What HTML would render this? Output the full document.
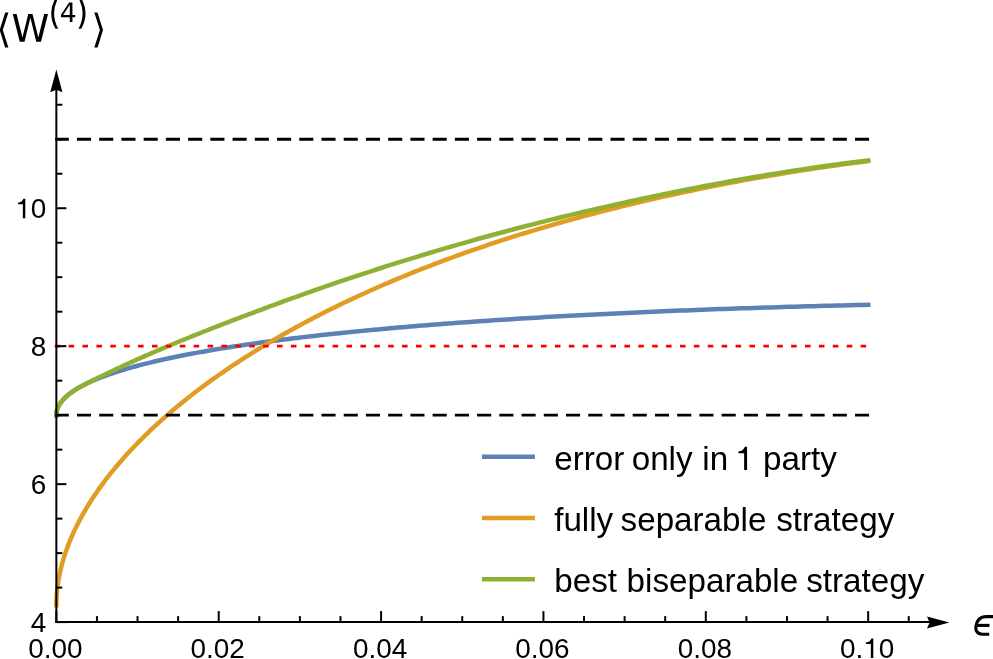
<!DOCTYPE html>
<html><head><meta charset="utf-8"><title>plot</title>
<style>
html,body{margin:0;padding:0;background:#fff;}
body{width:993px;height:659px;overflow:hidden;font-family:"Liberation Sans",sans-serif;}
svg{display:block;position:absolute;left:0;top:0;will-change:transform;}
text{font-family:"Liberation Sans",sans-serif;fill:#000;}
</style></head><body>
<svg width="993" height="659" viewBox="0 0 993 659">
<rect width="993" height="659" fill="#fff"/>

<g fill="none" stroke-linecap="square" stroke-linejoin="round" stroke-width="4.50">
<path stroke="#5E81B5" d="M56.35 415.16 L56.36 414.49 L56.40 413.82 L56.46 413.15 L56.54 412.48 L56.65 411.81 L56.79 411.15 L56.94 410.48 L57.12 409.82 L57.33 409.16 L57.56 408.51 L57.81 407.85 L58.09 407.19 L58.40 406.54 L58.72 405.89 L59.07 405.24 L59.45 404.59 L59.85 403.95 L60.27 403.30 L60.72 402.66 L61.19 402.02 L61.69 401.38 L62.21 400.74 L62.75 400.10 L63.32 399.47 L63.91 398.84 L64.53 398.21 L65.17 397.58 L65.84 396.95 L66.53 396.32 L67.24 395.70 L67.98 395.08 L68.74 394.46 L69.53 393.84 L70.34 393.22 L71.17 392.61 L72.03 391.99 L72.92 391.38 L73.82 390.77 L74.76 390.16 L75.71 389.56 L76.69 388.95 L77.70 388.35 L78.73 387.75 L79.78 387.15 L80.86 386.55 L81.96 385.96 L83.08 385.36 L84.23 384.77 L85.41 384.18 L86.60 383.59 L87.83 383.00 L89.07 382.42 L90.34 381.84 L91.64 381.25 L92.96 380.67 L94.30 380.10 L95.67 379.52 L97.06 378.95 L98.48 378.37 L99.92 377.80 L101.38 377.24 L102.87 376.67 L104.38 376.10 L105.92 375.54 L107.48 374.98 L109.07 374.42 L110.67 373.86 L112.31 373.31 L113.97 372.75 L115.65 372.20 L117.36 371.65 L119.09 371.10 L120.84 370.55 L122.62 370.01 L124.42 369.47 L126.25 368.93 L128.10 368.39 L129.98 367.85 L131.88 367.31 L133.80 366.78 L135.75 366.25 L137.72 365.72 L139.72 365.19 L141.74 364.67 L143.79 364.14 L145.85 363.62 L147.95 363.10 L150.07 362.58 L152.21 362.07 L154.37 361.55 L156.56 361.04 L158.78 360.53 L161.02 360.02 L163.28 359.51 L165.57 359.01 L167.88 358.51 L170.22 358.00 L172.58 357.51 L174.96 357.01 L177.37 356.51 L179.80 356.02 L182.26 355.53 L184.74 355.04 L187.24 354.55 L189.77 354.07 L192.33 353.58 L194.90 353.10 L197.51 352.62 L200.13 352.15 L202.78 351.67 L205.46 351.20 L208.15 350.73 L210.88 350.26 L213.62 349.79 L216.40 349.32 L219.19 348.86 L222.01 348.40 L224.86 347.94 L227.72 347.48 L230.62 347.03 L233.53 346.57 L236.47 346.12 L239.44 345.67 L242.43 345.22 L245.44 344.78 L248.48 344.34 L251.54 343.89 L254.63 343.46 L257.74 343.02 L260.87 342.58 L264.03 342.15 L267.21 341.72 L270.42 341.29 L273.65 340.86 L276.91 340.44 L280.18 340.01 L283.49 339.59 L286.82 339.18 L290.17 338.76 L293.55 338.34 L296.95 337.93 L300.37 337.52 L303.82 337.11 L307.29 336.71 L310.79 336.30 L314.31 335.90 L317.86 335.50 L321.43 335.10 L325.02 334.71 L328.64 334.31 L332.28 333.92 L335.95 333.53 L339.64 333.14 L343.36 332.76 L347.10 332.38 L350.86 332.00 L354.65 331.62 L358.46 331.24 L362.30 330.87 L366.16 330.49 L370.04 330.12 L373.95 329.75 L377.88 329.39 L381.84 329.03 L385.82 328.66 L389.83 328.30 L393.86 327.95 L397.91 327.59 L401.99 327.24 L406.09 326.89 L410.22 326.54 L414.37 326.19 L418.54 325.85 L422.74 325.51 L426.97 325.17 L431.21 324.83 L435.49 324.49 L439.78 324.16 L444.10 323.83 L448.45 323.50 L452.82 323.17 L457.21 322.85 L461.63 322.53 L466.07 322.21 L470.53 321.89 L475.02 321.57 L479.54 321.26 L484.08 320.95 L488.64 320.64 L493.22 320.33 L497.84 320.03 L502.47 319.73 L507.13 319.43 L511.81 319.13 L516.52 318.83 L521.25 318.54 L526.01 318.25 L530.79 317.96 L535.59 317.67 L540.42 317.39 L545.27 317.11 L550.15 316.83 L555.05 316.55 L559.98 316.28 L564.93 316.00 L569.90 315.73 L574.90 315.47 L579.92 315.20 L584.97 314.94 L590.04 314.68 L595.13 314.42 L600.25 314.16 L605.40 313.91 L610.56 313.66 L615.76 313.41 L620.97 313.16 L626.21 312.91 L631.48 312.67 L636.76 312.43 L642.08 312.19 L647.41 311.96 L652.77 311.73 L658.16 311.49 L663.57 311.27 L669.00 311.04 L674.46 310.82 L679.94 310.60 L685.45 310.38 L690.98 310.16 L696.53 309.95 L702.11 309.73 L707.72 309.53 L713.34 309.32 L719.00 309.11 L724.67 308.91 L730.37 308.71 L736.10 308.51 L741.84 308.32 L747.62 308.13 L753.41 307.94 L759.23 307.75 L765.08 307.56 L770.95 307.38 L776.84 307.20 L782.76 307.02 L788.70 306.85 L794.67 306.68 L800.66 306.50 L806.67 306.34 L812.71 306.17 L818.77 306.01 L824.86 305.85 L830.97 305.69 L837.11 305.53 L843.27 305.38 L849.45 305.23 L855.66 305.08 L861.89 304.94 L868.15 304.79"/>
<path stroke="#E19C24" d="M56.35 605.36 L56.36 603.50 L56.40 601.63 L56.46 599.76 L56.54 597.88 L56.65 596.00 L56.79 594.12 L56.94 592.23 L57.12 590.34 L57.33 588.44 L57.56 586.54 L57.81 584.63 L58.09 582.72 L58.40 580.81 L58.72 578.89 L59.07 576.97 L59.45 575.05 L59.85 573.12 L60.27 571.19 L60.72 569.25 L61.19 567.31 L61.69 565.37 L62.21 563.43 L62.75 561.48 L63.32 559.52 L63.91 557.57 L64.53 555.61 L65.17 553.65 L65.84 551.69 L66.53 549.72 L67.24 547.75 L67.98 545.77 L68.74 543.80 L69.53 541.82 L70.34 539.84 L71.17 537.85 L72.03 535.87 L72.92 533.88 L73.82 531.89 L74.76 529.89 L75.71 527.90 L76.69 525.90 L77.70 523.90 L78.73 521.90 L79.78 519.89 L80.86 517.89 L81.96 515.88 L83.08 513.87 L84.23 511.86 L85.41 509.84 L86.60 507.83 L87.83 505.81 L89.07 503.80 L90.34 501.78 L91.64 499.76 L92.96 497.73 L94.30 495.71 L95.67 493.69 L97.06 491.66 L98.48 489.63 L99.92 487.61 L101.38 485.58 L102.87 483.55 L104.38 481.52 L105.92 479.49 L107.48 477.46 L109.07 475.43 L110.67 473.39 L112.31 471.36 L113.97 469.33 L115.65 467.30 L117.36 465.26 L119.09 463.23 L120.84 461.20 L122.62 459.16 L124.42 457.13 L126.25 455.10 L128.10 453.07 L129.98 451.03 L131.88 449.00 L133.80 446.97 L135.75 444.94 L137.72 442.91 L139.72 440.88 L141.74 438.85 L143.79 436.82 L145.85 434.79 L147.95 432.77 L150.07 430.74 L152.21 428.72 L154.37 426.70 L156.56 424.67 L158.78 422.65 L161.02 420.63 L163.28 418.62 L165.57 416.60 L167.88 414.59 L170.22 412.57 L172.58 410.56 L174.96 408.55 L177.37 406.55 L179.80 404.54 L182.26 402.54 L184.74 400.54 L187.24 398.54 L189.77 396.54 L192.33 394.55 L194.90 392.56 L197.51 390.57 L200.13 388.58 L202.78 386.60 L205.46 384.62 L208.15 382.64 L210.88 380.66 L213.62 378.69 L216.40 376.72 L219.19 374.76 L222.01 372.79 L224.86 370.83 L227.72 368.88 L230.62 366.92 L233.53 364.98 L236.47 363.03 L239.44 361.09 L242.43 359.15 L245.44 357.21 L248.48 355.28 L251.54 353.36 L254.63 351.43 L257.74 349.51 L260.87 347.60 L264.03 345.69 L267.21 343.78 L270.42 341.88 L273.65 339.98 L276.91 338.09 L280.18 336.20 L283.49 334.32 L286.82 332.44 L290.17 330.57 L293.55 328.70 L296.95 326.83 L300.37 324.98 L303.82 323.12 L307.29 321.27 L310.79 319.43 L314.31 317.59 L317.86 315.76 L321.43 313.93 L325.02 312.11 L328.64 310.30 L332.28 308.49 L335.95 306.68 L339.64 304.89 L343.36 303.09 L347.10 301.31 L350.86 299.53 L354.65 297.76 L358.46 295.99 L362.30 294.23 L366.16 292.47 L370.04 290.72 L373.95 288.98 L377.88 287.25 L381.84 285.52 L385.82 283.80 L389.83 282.08 L393.86 280.38 L397.91 278.68 L401.99 276.98 L406.09 275.30 L410.22 273.62 L414.37 271.95 L418.54 270.28 L422.74 268.63 L426.97 266.98 L431.21 265.33 L435.49 263.70 L439.78 262.07 L444.10 260.46 L448.45 258.85 L452.82 257.24 L457.21 255.65 L461.63 254.06 L466.07 252.48 L470.53 250.91 L475.02 249.35 L479.54 247.80 L484.08 246.26 L488.64 244.72 L493.22 243.19 L497.84 241.67 L502.47 240.16 L507.13 238.66 L511.81 237.17 L516.52 235.69 L521.25 234.21 L526.01 232.75 L530.79 231.29 L535.59 229.84 L540.42 228.41 L545.27 226.98 L550.15 225.56 L555.05 224.15 L559.98 222.75 L564.93 221.36 L569.90 219.98 L574.90 218.61 L579.92 217.25 L584.97 215.90 L590.04 214.56 L595.13 213.23 L600.25 211.90 L605.40 210.59 L610.56 209.28 L615.76 207.98 L620.97 206.69 L626.21 205.40 L631.48 204.13 L636.76 202.86 L642.08 201.61 L647.41 200.36 L652.77 199.12 L658.16 197.89 L663.57 196.67 L669.00 195.45 L674.46 194.25 L679.94 193.06 L685.45 191.88 L690.98 190.70 L696.53 189.54 L702.11 188.39 L707.72 187.25 L713.34 186.12 L719.00 185.00 L724.67 183.89 L730.37 182.79 L736.10 181.71 L741.84 180.64 L747.62 179.57 L753.41 178.52 L759.23 177.49 L765.08 176.46 L770.95 175.45 L776.84 174.45 L782.76 173.46 L788.70 172.49 L794.67 171.53 L800.66 170.59 L806.67 169.66 L812.71 168.74 L818.77 167.84 L824.86 166.95 L830.97 166.08 L837.11 165.22 L843.27 164.38 L849.45 163.55 L855.66 162.74 L861.89 161.95 L868.15 161.17"/>
<path stroke="#8FB032" d="M56.35 415.16 L56.36 414.49 L56.40 413.82 L56.46 413.15 L56.54 412.48 L56.65 411.81 L56.79 411.15 L56.94 410.48 L57.12 409.82 L57.33 409.16 L57.56 408.51 L57.81 407.85 L58.09 407.19 L58.40 406.54 L58.72 405.89 L59.07 405.24 L59.45 404.59 L59.85 403.95 L60.27 403.30 L60.72 402.66 L61.19 402.02 L61.69 401.38 L62.21 400.74 L62.75 400.10 L63.32 399.47 L63.91 398.84 L64.53 398.21 L65.17 397.58 L65.84 396.95 L66.53 396.32 L67.24 395.70 L67.98 395.08 L68.74 394.46 L69.53 393.84 L70.34 393.22 L71.17 392.61 L72.03 391.99 L72.92 391.38 L73.82 390.77 L74.76 390.16 L75.71 389.56 L76.69 388.95 L77.70 388.35 L78.73 387.75 L79.78 387.15 L80.86 386.55 L81.96 385.96 L83.08 385.36 L84.23 384.77 L85.41 384.17 L86.60 383.56 L87.83 382.94 L89.07 382.31 L90.34 381.67 L91.64 381.02 L92.96 380.36 L94.30 379.69 L95.67 379.02 L97.06 378.33 L98.48 377.63 L99.92 376.93 L101.38 376.21 L102.87 375.49 L104.38 374.75 L105.92 374.01 L107.48 373.26 L109.07 372.50 L110.67 371.73 L112.31 370.96 L113.97 370.17 L115.65 369.38 L117.36 368.58 L119.09 367.77 L120.84 366.96 L122.62 366.13 L124.42 365.30 L126.25 364.46 L128.10 363.62 L129.98 362.76 L131.88 361.90 L133.80 361.03 L135.75 360.16 L137.72 359.28 L139.72 358.39 L141.74 357.49 L143.79 356.59 L145.85 355.68 L147.95 354.76 L150.07 353.84 L152.21 352.91 L154.37 351.97 L156.56 351.03 L158.78 350.08 L161.02 349.13 L163.28 348.17 L165.57 347.20 L167.88 346.23 L170.22 345.25 L172.58 344.27 L174.96 343.28 L177.37 342.28 L179.80 341.28 L182.26 340.28 L184.74 339.26 L187.24 338.25 L189.77 337.22 L192.33 336.19 L194.90 335.16 L197.51 334.12 L200.13 333.07 L202.78 332.02 L205.46 330.97 L208.15 329.91 L210.88 328.84 L213.62 327.77 L216.40 326.69 L219.19 325.60 L222.01 324.51 L224.86 323.42 L227.72 322.31 L230.62 321.20 L233.53 320.09 L236.47 318.97 L239.44 317.84 L242.43 316.71 L245.44 315.57 L248.48 314.42 L251.54 313.27 L254.63 312.11 L257.74 310.94 L260.87 309.77 L264.03 308.59 L267.21 307.41 L270.42 306.22 L273.65 305.03 L276.91 303.83 L280.18 302.62 L283.49 301.41 L286.82 300.19 L290.17 298.97 L293.55 297.75 L296.95 296.52 L300.37 295.28 L303.82 294.05 L307.29 292.81 L310.79 291.57 L314.31 290.33 L317.86 289.08 L321.43 287.84 L325.02 286.59 L328.64 285.35 L332.28 284.10 L335.95 282.85 L339.64 281.61 L343.36 280.35 L347.10 279.10 L350.86 277.85 L354.65 276.59 L358.46 275.33 L362.30 274.07 L366.16 272.80 L370.04 271.54 L373.95 270.27 L377.88 269.01 L381.84 267.74 L385.82 266.47 L389.83 265.20 L393.86 263.93 L397.91 262.65 L401.99 261.38 L406.09 260.11 L410.22 258.83 L414.37 257.56 L418.54 256.29 L422.74 255.01 L426.97 253.74 L431.21 252.47 L435.49 251.19 L439.78 249.92 L444.10 248.65 L448.45 247.38 L452.82 246.11 L457.21 244.84 L461.63 243.58 L466.07 242.31 L470.53 241.05 L475.02 239.78 L479.54 238.52 L484.08 237.26 L488.64 236.01 L493.22 234.75 L497.84 233.50 L502.47 232.25 L507.13 231.01 L511.81 229.76 L516.52 228.52 L521.25 227.28 L526.01 226.05 L530.79 224.82 L535.59 223.59 L540.42 222.37 L545.27 221.15 L550.15 219.93 L555.05 218.72 L559.98 217.51 L564.93 216.31 L569.90 215.11 L574.90 213.91 L579.92 212.72 L584.97 211.54 L590.04 210.36 L595.13 209.18 L600.25 208.01 L605.40 206.84 L610.56 205.68 L615.76 204.52 L620.97 203.36 L626.21 202.20 L631.48 201.05 L636.76 199.91 L642.08 198.77 L647.41 197.63 L652.77 196.50 L658.16 195.37 L663.57 194.25 L669.00 193.13 L674.46 192.03 L679.94 190.92 L685.45 189.82 L690.98 188.73 L696.53 187.65 L702.11 186.57 L707.72 185.51 L713.34 184.44 L719.00 183.39 L724.67 182.35 L730.37 181.31 L736.10 180.28 L741.84 179.26 L747.62 178.25 L753.41 177.25 L759.23 176.26 L765.08 175.28 L770.95 174.31 L776.84 173.35 L782.76 172.40 L788.70 171.46 L794.67 170.53 L800.66 169.62 L806.67 168.71 L812.71 167.82 L818.77 166.94 L824.86 166.08 L830.97 165.22 L837.11 164.39 L843.27 163.56 L849.45 162.75 L855.66 161.95 L861.89 161.17 L868.15 160.41"/>
</g>
<path d="M55.2 139.24 H869.2" stroke="#000" stroke-width="2.8" fill="none" stroke-dasharray="14.1 8.13" stroke-dashoffset="0.48"/>
<path d="M55.2 415.16 H869.2" stroke="#000" stroke-width="2.8" fill="none" stroke-dasharray="14.1 8.13" stroke-dashoffset="0.48"/>
<path d="M54.7 346.18 H867" stroke="#FF0000" stroke-width="2.8" fill="none" stroke-dasharray="5.56 8.335"/>
<g stroke="#000" stroke-width="2.00" fill="none">
<path d="M56.35 623.10 V88"/>
<path d="M55.35 622.10 H931"/>
<path d="M56.35 622.10 v-11.00"/>
<path d="M96.94 622.10 v-6.00"/>
<path d="M137.53 622.10 v-6.00"/>
<path d="M178.12 622.10 v-6.00"/>
<path d="M218.71 622.10 v-11.00"/>
<path d="M259.30 622.10 v-6.00"/>
<path d="M299.89 622.10 v-6.00"/>
<path d="M340.48 622.10 v-6.00"/>
<path d="M381.07 622.10 v-11.00"/>
<path d="M421.66 622.10 v-6.00"/>
<path d="M462.25 622.10 v-6.00"/>
<path d="M502.84 622.10 v-6.00"/>
<path d="M543.43 622.10 v-11.00"/>
<path d="M584.02 622.10 v-6.00"/>
<path d="M624.61 622.10 v-6.00"/>
<path d="M665.20 622.10 v-6.00"/>
<path d="M705.79 622.10 v-11.00"/>
<path d="M746.38 622.10 v-6.00"/>
<path d="M786.97 622.10 v-6.00"/>
<path d="M827.56 622.10 v-6.00"/>
<path d="M868.15 622.10 v-11.00"/>
<path d="M908.74 622.10 v-6.00"/>
<path d="M56.35 622.10 h10.00"/>
<path d="M56.35 587.61 h6.00"/>
<path d="M56.35 553.12 h6.00"/>
<path d="M56.35 518.63 h6.00"/>
<path d="M56.35 484.14 h10.00"/>
<path d="M56.35 449.65 h6.00"/>
<path d="M56.35 415.16 h6.00"/>
<path d="M56.35 380.67 h6.00"/>
<path d="M56.35 346.18 h10.00"/>
<path d="M56.35 311.69 h6.00"/>
<path d="M56.35 277.20 h6.00"/>
<path d="M56.35 242.71 h6.00"/>
<path d="M56.35 208.22 h10.00"/>
<path d="M56.35 173.73 h6.00"/>
<path d="M56.35 139.24 h6.00"/>
<path d="M56.35 104.75 h6.00"/>
</g>
<path d="M949.4 622.40 L926.9 616.40 L929.7 622.40 L926.9 628.40 Z" fill="#000"/>
<path d="M56.35 69.6 L50.25 92.2 L56.35 89.8 L62.45 92.2 Z" fill="#000"/>
<text x="55.35" y="658.10" font-size="27.9" text-anchor="middle">0.00</text>
<text x="217.71" y="658.10" font-size="27.9" text-anchor="middle">0.02</text>
<text x="380.07" y="658.10" font-size="27.9" text-anchor="middle">0.04</text>
<text x="542.43" y="658.10" font-size="27.9" text-anchor="middle">0.06</text>
<text x="704.79" y="658.10" font-size="27.9" text-anchor="middle">0.08</text>
<text x="840.00" y="658.10" font-size="27.9">0.</text>
<path d="M870.83 658.10 L870.83 644.01 L866.09 644.01 L866.09 642.31 C868.99 642.20 870.58 640.66 871.42 638.49 L873.29 638.49 L873.29 658.10 Z" fill="#000"/>
<text x="878.78" y="658.10" font-size="27.9">0</text>
<text x="46.3" y="632.20" font-size="27.9" text-anchor="end">4</text>
<text x="46.3" y="494.24" font-size="27.9" text-anchor="end">6</text>
<text x="46.3" y="356.28" font-size="27.9" text-anchor="end">8</text>
<text x="46.3" y="218.32" font-size="27.9" text-anchor="end">0</text>
<path d="M22.84 218.32 L22.84 204.23 L18.09 204.23 L18.09 202.53 C20.99 202.42 22.58 200.88 23.42 198.71 L25.29 198.71 L25.29 218.32 Z" fill="#000"/>
<path d="M482 456.80 H534.9" stroke="#5E81B5" stroke-width="4.50" fill="none"/>
<text x="554.20" y="470.00" font-size="33.2">error</text>
<text x="631.70" y="470.00" font-size="33.2">only</text>
<text x="702.30" y="470.00" font-size="33.2">in</text>
<path d="M744.14 470.00 L744.14 453.23 L738.50 453.23 L738.50 451.21 C741.95 451.08 743.85 449.25 744.84 446.66 L747.07 446.66 L747.07 470.00 Z" fill="#000"/>
<text x="763.00" y="470.00" font-size="33.2">party</text>
<path d="M482 518.00 H534.9" stroke="#E19C24" stroke-width="4.50" fill="none"/>
<text x="554.20" y="530.80" font-size="33.2">fully</text>
<text x="620.60" y="530.80" font-size="33.2">separable</text>
<text x="776.20" y="530.80" font-size="33.2">strategy</text>
<path d="M482 579.20 H534.9" stroke="#8FB032" stroke-width="4.50" fill="none"/>
<text x="554.30" y="592.30" font-size="33.2">best</text>
<text x="626.60" y="592.30" font-size="33.2">biseparable</text>
<text x="806.20" y="592.30" font-size="33.2">strategy</text>
<g fill="none" stroke="#000" stroke-width="3.1" stroke-linecap="butt"><path d="M996 616.6 L985.5 616.6 C980.5 616.6 977.2 620.3 976.1 625.5 C975.1 630.5 977.2 634.2 982.2 634.2 L989.2 634.2"/><path d="M976.5 625.4 L989.5 625.4"/></g>
<g fill="#000" fill-rule="evenodd">
<path d="M12.80 14.00 L16.60 14.00 L22.45 37.50 L28.27 14.00 L32.50 14.00 L38.35 37.50 L44.18 14.00 L47.99 14.00 L41.01 41.80 L36.28 41.80 L30.41 17.67 L24.49 41.80 L19.76 41.80 Z "/>
<path d="M69.80 4.70 L63.14 15.11 L69.80 15.11 Z M69.11 2.40 L72.43 2.40 L72.43 15.11 L75.21 15.11 L75.21 17.30 L72.43 17.30 L72.43 21.90 L69.80 21.90 L69.80 17.30 L61.00 17.30 L61.00 14.76 Z "/>
<path d="M8.4 12.6 L5.2 12.6 L-0.3 30 L5.1 47.4 L8.4 47.4 L2.8 30 Z"/>
<path d="M94.3 12.6 L97.5 12.6 L103 30 L97.6 47.4 L94.3 47.4 L99.9 30 Z"/>
<path d="M55.5 -2 Q46.9 13.4 55.5 28.8 L58.2 28.8 Q50 13.4 58.2 -2 Z"/>
<path d="M81.2 -2 Q89.9 13.4 81.2 28.8 L78.5 28.8 Q86.7 13.4 78.5 -2 Z"/>
</g>
</svg></body></html>
